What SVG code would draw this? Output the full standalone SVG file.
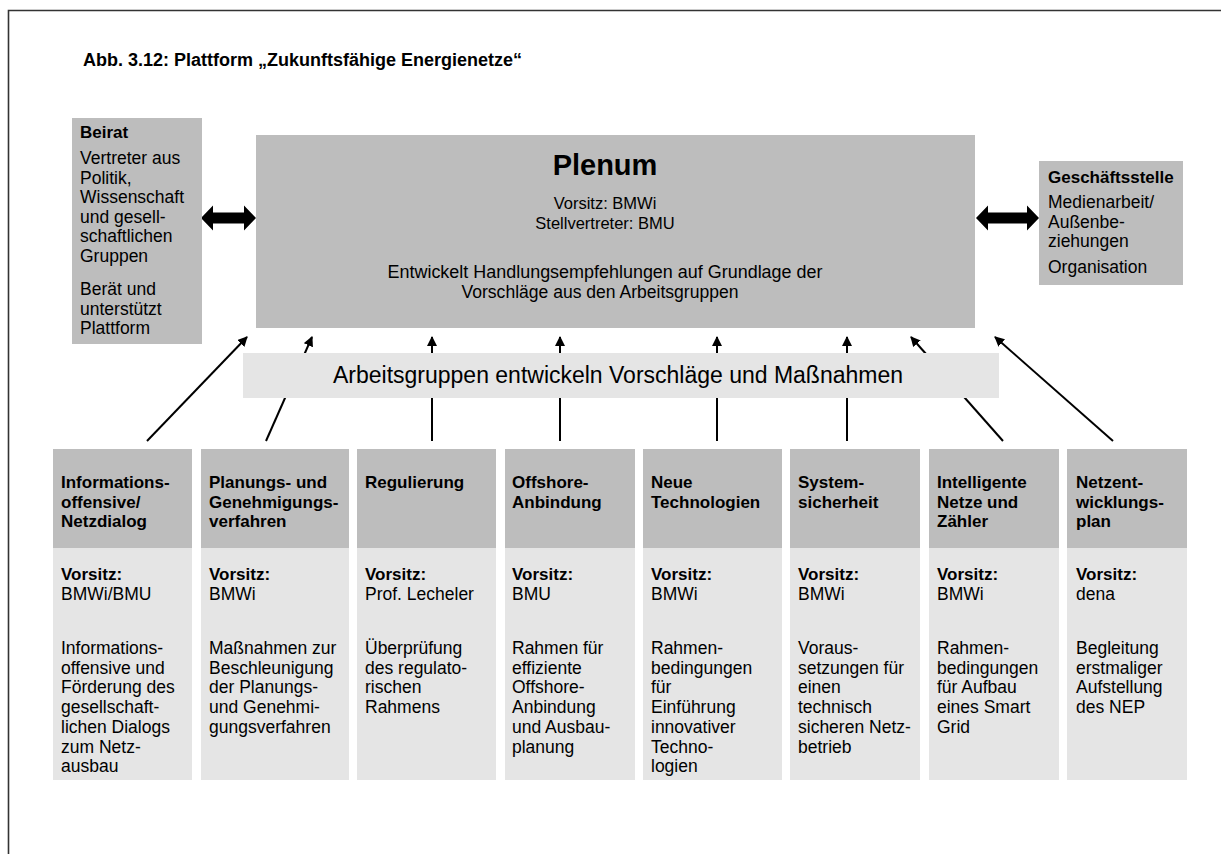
<svg xmlns="http://www.w3.org/2000/svg" width="1221" height="854" viewBox="0 0 1221 854">
<style>
text{font-family:"Liberation Sans",Arial,sans-serif;fill:#000}
.b{font-weight:bold}
.t{font-size:17.5px}
.h{font-size:17px;font-weight:bold}
.dark{fill:#bdbdbd}
.light{fill:#e5e5e5}
.conn{stroke:#000;stroke-width:2;fill:none;marker-end:url(#ah)}
</style>
<defs>
<marker id="ah" viewBox="0 0 10 10" refX="9" refY="5" markerWidth="10" markerHeight="10" markerUnits="userSpaceOnUse" orient="auto">
<path d="M0,0 L10,5 L0,10 Z" fill="#000"/>
</marker>
</defs>
<rect width="1221" height="854" fill="#fff"/>
<path d="M8.5,854 V10.5 H1221" fill="none" stroke="#333" stroke-width="1.6"/>
<text x="83" y="66" class="b" font-size="18">Abb. 3.12: Plattform „Zukunftsfähige Energienetze“</text>

<g id="connectors">
<line class="conn" x1="147" y1="441" x2="247" y2="337"/>
<line class="conn" x1="266" y1="441" x2="312" y2="337"/>
<line class="conn" x1="432" y1="441" x2="432" y2="337"/>
<line class="conn" x1="560" y1="441" x2="560" y2="337"/>
<line class="conn" x1="717" y1="441" x2="717" y2="337"/>
<line class="conn" x1="847" y1="441" x2="847" y2="337"/>
<line class="conn" x1="1003" y1="441" x2="911" y2="337"/>
<line class="conn" x1="1113" y1="441" x2="995" y2="337"/>
<path d="M201,218 L213,205.5 L213,212.5 L244,212.5 L244,205.5 L256,218 L244,230.5 L244,223.5 L213,223.5 L213,230.5 Z" fill="#000"/>
<path d="M976,218 L988,205.5 L988,212.5 L1027,212.5 L1027,205.5 L1039,218 L1027,230.5 L1027,223.5 L988,223.5 L988,230.5 Z" fill="#000"/>
</g>

<g id="beirat">
<rect class="dark" x="72" y="118" width="130" height="226"/>
<text x="80" y="138" class="h">Beirat</text>
<text class="t" x="80"><tspan x="80" y="164">Vertreter aus</tspan><tspan x="80" y="183.6">Politik,</tspan><tspan x="80" y="203.2">Wissenschaft</tspan><tspan x="80" y="222.8">und gesell-</tspan><tspan x="80" y="242.4">schaftlichen</tspan><tspan x="80" y="262">Gruppen</tspan><tspan x="80" y="295">Berät und</tspan><tspan x="80" y="314.6">unterstützt</tspan><tspan x="80" y="334.2">Plattform</tspan></text>
</g>

<g id="plenum">
<rect class="dark" x="256" y="135" width="719" height="193"/>
<text x="605" y="175" class="b" font-size="29" text-anchor="middle">Plenum</text>
<text x="605" y="209" font-size="16.5" text-anchor="middle">Vorsitz: BMWi</text>
<text x="605" y="229" font-size="16.5" text-anchor="middle">Stellvertreter: BMU</text>
<text x="605" y="278" font-size="17.5" text-anchor="middle" textLength="435" lengthAdjust="spacingAndGlyphs">Entwickelt Handlungsempfehlungen auf Grundlage der</text>
<text x="600" y="298" font-size="17.5" text-anchor="middle" textLength="277" lengthAdjust="spacingAndGlyphs">Vorschläge aus den Arbeitsgruppen</text>
</g>

<g id="geschaeftsstelle">
<rect class="dark" x="1039" y="161" width="144" height="124"/>
<text x="1048" y="183" class="h">Geschäftsstelle</text>
<text class="t"><tspan x="1048" y="208">Medienarbeit/</tspan><tspan x="1048" y="227.5">Außenbe-</tspan><tspan x="1048" y="247">ziehungen</tspan><tspan x="1048" y="273">Organisation</tspan></text>
</g>

<g id="arbeitsgruppen">
<rect class="light" x="243" y="353" width="756" height="45"/>
<text x="618" y="383" font-size="23" text-anchor="middle" textLength="570" lengthAdjust="spacingAndGlyphs">Arbeitsgruppen entwickeln Vorschläge und Maßnahmen</text>
</g>

<g id="ag1">
<rect class="dark" x="53" y="449" width="139" height="99"/>
<rect class="light" x="53" y="548" width="139" height="232"/>
<text class="h"><tspan x="61" y="488">Informations-</tspan><tspan x="61" y="507.5">offensive/</tspan><tspan x="61" y="527">Netzdialog</tspan></text>
<text x="61" y="580" class="h">Vorsitz:</text>
<text class="t"><tspan x="61" y="600">BMWi/BMU</tspan><tspan x="61" y="654">Informations-</tspan><tspan x="61" y="673.7">offensive und</tspan><tspan x="61" y="693.4">Förderung des</tspan><tspan x="61" y="713.1">gesellschaft-</tspan><tspan x="61" y="732.8">lichen Dialogs</tspan><tspan x="61" y="752.5">zum Netz-</tspan><tspan x="61" y="772.2">ausbau</tspan></text>
</g>

<g id="ag2">
<rect class="dark" x="201" y="449" width="148" height="99"/>
<rect class="light" x="201" y="548" width="148" height="232"/>
<text class="h"><tspan x="209" y="488">Planungs- und</tspan><tspan x="209" y="507.5">Genehmigungs-</tspan><tspan x="209" y="527">verfahren</tspan></text>
<text x="209" y="580" class="h">Vorsitz:</text>
<text class="t"><tspan x="209" y="600">BMWi</tspan><tspan x="209" y="654">Maßnahmen zur</tspan><tspan x="209" y="673.7">Beschleunigung</tspan><tspan x="209" y="693.4">der Planungs-</tspan><tspan x="209" y="713.1">und Genehmi-</tspan><tspan x="209" y="732.8">gungsverfahren</tspan></text>
</g>

<g id="ag3">
<rect class="dark" x="357" y="449" width="139" height="99"/>
<rect class="light" x="357" y="548" width="139" height="232"/>
<text x="365" y="488" class="h">Regulierung</text>
<text x="365" y="580" class="h">Vorsitz:</text>
<text class="t"><tspan x="365" y="600">Prof. Lecheler</tspan><tspan x="365" y="654">Überprüfung</tspan><tspan x="365" y="673.7">des regulato-</tspan><tspan x="365" y="693.4">rischen</tspan><tspan x="365" y="713.1">Rahmens</tspan></text>
</g>

<g id="ag4">
<rect class="dark" x="505" y="449" width="130" height="99"/>
<rect class="light" x="505" y="548" width="130" height="232"/>
<text class="h"><tspan x="512" y="488">Offshore-</tspan><tspan x="512" y="507.5">Anbindung</tspan></text>
<text x="512" y="580" class="h">Vorsitz:</text>
<text class="t"><tspan x="512" y="600">BMU</tspan><tspan x="512" y="654">Rahmen für</tspan><tspan x="512" y="673.7">effiziente</tspan><tspan x="512" y="693.4">Offshore-</tspan><tspan x="512" y="713.1">Anbindung</tspan><tspan x="512" y="732.8">und Ausbau-</tspan><tspan x="512" y="752.5">planung</tspan></text>
</g>

<g id="ag5">
<rect class="dark" x="643" y="449" width="139" height="99"/>
<rect class="light" x="643" y="548" width="139" height="232"/>
<text class="h"><tspan x="651" y="488">Neue</tspan><tspan x="651" y="507.5">Technologien</tspan></text>
<text x="651" y="580" class="h">Vorsitz:</text>
<text class="t"><tspan x="651" y="600">BMWi</tspan><tspan x="651" y="654">Rahmen-</tspan><tspan x="651" y="673.7">bedingungen</tspan><tspan x="651" y="693.4">für</tspan><tspan x="651" y="713.1">Einführung</tspan><tspan x="651" y="732.8">innovativer</tspan><tspan x="651" y="752.5">Techno-</tspan><tspan x="651" y="772.2">logien</tspan></text>
</g>

<g id="ag6">
<rect class="dark" x="790" y="449" width="130" height="99"/>
<rect class="light" x="790" y="548" width="130" height="232"/>
<text class="h"><tspan x="798" y="488">System-</tspan><tspan x="798" y="507.5">sicherheit</tspan></text>
<text x="798" y="580" class="h">Vorsitz:</text>
<text class="t"><tspan x="798" y="600">BMWi</tspan><tspan x="798" y="654">Voraus-</tspan><tspan x="798" y="673.7">setzungen für</tspan><tspan x="798" y="693.4">einen</tspan><tspan x="798" y="713.1">technisch</tspan><tspan x="798" y="732.8">sicheren Netz-</tspan><tspan x="798" y="752.5">betrieb</tspan></text>
</g>

<g id="ag7">
<rect class="dark" x="929" y="449" width="130" height="99"/>
<rect class="light" x="929" y="548" width="130" height="232"/>
<text class="h"><tspan x="937" y="488">Intelligente</tspan><tspan x="937" y="507.5">Netze und</tspan><tspan x="937" y="527">Zähler</tspan></text>
<text x="937" y="580" class="h">Vorsitz:</text>
<text class="t"><tspan x="937" y="600">BMWi</tspan><tspan x="937" y="654">Rahmen-</tspan><tspan x="937" y="673.7">bedingungen</tspan><tspan x="937" y="693.4">für Aufbau</tspan><tspan x="937" y="713.1">eines Smart</tspan><tspan x="937" y="732.8">Grid</tspan></text>
</g>

<g id="ag8">
<rect class="dark" x="1067" y="449" width="120" height="99"/>
<rect class="light" x="1067" y="548" width="120" height="232"/>
<text class="h"><tspan x="1076" y="488">Netzent-</tspan><tspan x="1076" y="507.5">wicklungs-</tspan><tspan x="1076" y="527">plan</tspan></text>
<text x="1076" y="580" class="h">Vorsitz:</text>
<text class="t"><tspan x="1076" y="600">dena</tspan><tspan x="1076" y="654">Begleitung</tspan><tspan x="1076" y="673.7">erstmaliger</tspan><tspan x="1076" y="693.4">Aufstellung</tspan><tspan x="1076" y="713.1">des NEP</tspan></text>
</g>
</svg>
